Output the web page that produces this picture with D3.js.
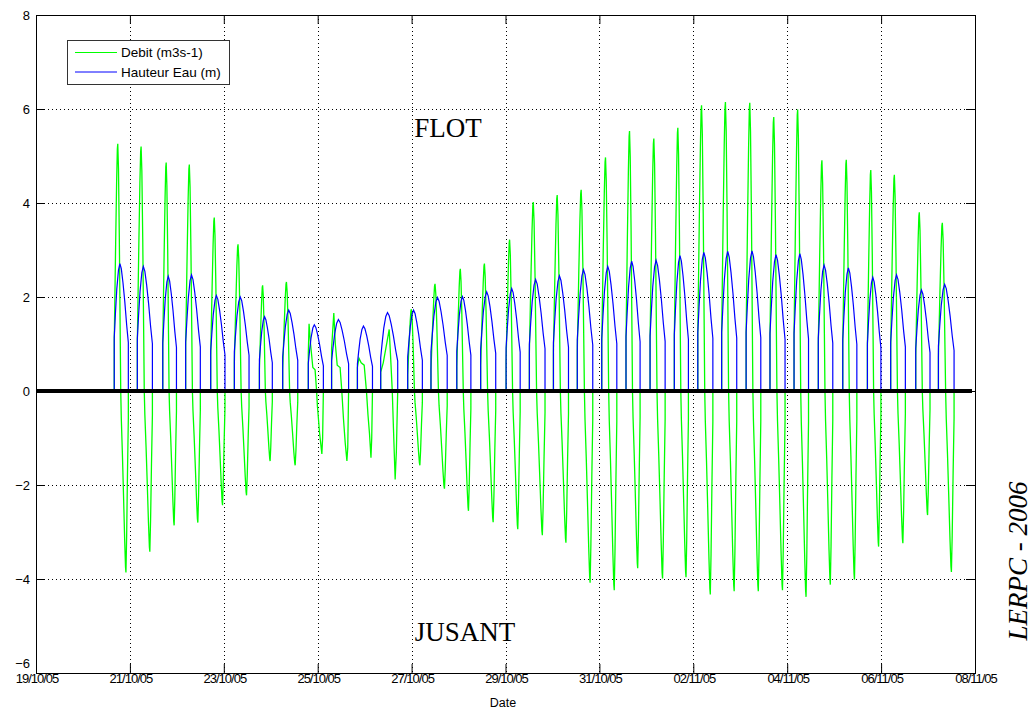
<!DOCTYPE html>
<html><head><meta charset="utf-8">
<script src="https://cdn.jsdelivr.net/npm/d3@7"></script>
<style>body{margin:0;background:#fff}</style>
</head><body>
<svg id="chart" width="1035" height="710"></svg>
<script>
// ---- data ----
const tickDates = ["2005-10-19","2005-10-21","2005-10-23","2005-10-25","2005-10-27","2005-10-29","2005-10-31","2005-11-02","2005-11-04","2005-11-06","2005-11-08"];
const yTicks = [-6,-4,-2,0,2,4,6,8];
const seriesNames = ["Debit (m3s-1)", "Hauteur Eau (m)"];

// start of each immersion cycle (UTC) and its duration in hours
const cycleStart = ["2005-10-20T16:00","2005-10-21T03:48","2005-10-21T16:48","2005-10-22T04:30","2005-10-22T17:18","2005-10-23T05:24","2005-10-23T18:12","2005-10-24T06:06","2005-10-24T19:12","2005-10-25T07:06","2005-10-25T20:18","2005-10-26T08:12","2005-10-26T22:00","2005-10-27T09:54","2005-10-27T23:06","2005-10-28T11:18","2005-10-29T00:18","2005-10-29T12:12","2005-10-30T00:30","2005-10-30T12:42","2005-10-31T01:12","2005-10-31T13:36","2005-11-01T01:54","2005-11-01T14:18","2005-11-02T02:18","2005-11-02T14:30","2005-11-03T03:00","2005-11-03T15:12","2005-11-04T03:30","2005-11-04T15:54","2005-11-05T04:24","2005-11-05T17:00","2005-11-06T04:54","2005-11-06T17:42","2005-11-07T05:18"];
const cycleHours = [7.2,7.7,7.0,7.5,7.3,7.5,6.6,7.7,7.7,8.7,7.7,8.7,7.5,8.3,7.2,7.7,7.2,8.0,7.7,7.9,7.7,7.2,7.7,7.2,7.7,7.7,7.5,7.7,7.4,7.4,7.2,6.9,7.5,7.3,8.0];

// Hauteur Eau (m): peak per cycle
const hauteurPeak = [2.71,2.65,2.44,2.47,2.03,2.00,1.58,1.72,1.41,1.52,1.38,1.67,1.72,1.99,2.01,2.11,2.18,2.37,2.45,2.58,2.65,2.76,2.78,2.88,2.95,2.97,2.98,2.90,2.92,2.68,2.62,2.42,2.47,2.15,2.27];
// Debit (m3s-1): flood maximum and ebb minimum per cycle
const debitPeak = [5.26,5.20,4.86,4.82,3.69,3.12,2.25,2.32,1.43,1.66,0.70,1.31,1.74,2.28,2.60,2.71,3.22,4.02,4.17,4.28,4.97,5.53,5.37,5.60,6.08,6.15,6.13,5.83,5.99,4.91,4.92,4.70,4.60,3.80,3.58];
const debitMin = [-3.86,-3.42,-2.86,-2.80,-2.43,-2.22,-1.49,-1.58,-1.34,-1.49,-1.42,-1.88,-1.58,-2.08,-2.55,-2.79,-2.94,-3.07,-3.23,-4.08,-4.24,-3.77,-3.99,-3.96,-4.33,-4.26,-4.26,-4.24,-4.38,-4.12,-4.01,-3.31,-3.24,-2.64,-3.85];

// typical shape of one cycle (fraction of cycle, fraction of peak / min)
const hauteurProfile = [[0,0],[0,0.42],[0.08,0.6],[0.18,0.8],[0.3,0.95],[0.4,1],[0.5,0.96],[0.62,0.85],[0.75,0.7],[0.88,0.52],[1,0.38],[1,0]];
const debitProfile = [[0,0],[0,0.2],[0.05,0.4],[0.1,0.6],[0.17,0.85],[0.22,0.98],[0.25,1],[0.3,0.9],[0.36,0.62],[0.42,0.25],[0.46,0],[0.5,-0.15],[0.58,-0.35],[0.66,-0.58],[0.74,-0.82],[0.8,-0.97],[0.83,-1],[0.88,-0.8],[0.94,-0.45],[1,-0.15],[1,0]];
// irregular neap cycles, read directly (fraction of cycle, m3s-1)
const debitShapes = {
  8:  [[0,0],[0,0.8],[0.05,1.43],[0.15,1.0],[0.3,0.5],[0.45,0.45],[0.55,0],[0.6,-0.3],[0.75,-0.9],[0.9,-1.34],[0.95,-1.0],[1,0]],
  9:  [[0,0],[0,0.9],[0.13,1.66],[0.22,1.0],[0.33,0.55],[0.5,0.5],[0.6,0],[0.7,-0.6],[0.8,-1.1],[0.9,-1.49],[0.95,-1.2],[1,0]],
  10: [[0,0],[0,0.5],[0.1,0.7],[0.25,0.6],[0.45,0.55],[0.6,0],[0.7,-0.5],[0.8,-0.9],[0.9,-1.42],[0.95,-1.0],[1,0]],
  11: [[0,0],[0,0.4],[0.15,0.6],[0.3,0.9],[0.5,1.31],[0.6,0.6],[0.68,0],[0.75,-0.8],[0.85,-1.88],[0.92,-1.3],[1,0]]
};

// ---- build ----
const parseT = d3.utcParse("%Y-%m-%dT%H:%M");
const parseD = d3.utcParse("%Y-%m-%d");
const HOUR = 3600e3;

const hauteur = [], debit = [];
cycleStart.forEach((s, i) => {
  const t0 = +parseT(s), len = cycleHours[i] * HOUR;
  hauteurProfile.forEach(([f, v]) => hauteur.push([new Date(t0 + f * len), v * hauteurPeak[i]]));
  if (debitShapes[i]) {
    debitShapes[i].forEach(([f, v]) => debit.push([new Date(t0 + f * len), v]));
  } else {
    debitProfile.forEach(([f, v]) => debit.push([new Date(t0 + f * len), v >= 0 ? v * debitPeak[i] : -v * debitMin[i]]));
  }
});

const L = 36, R = 975, T = 15, B = 673;
const svg = d3.select("#chart");
const dates = tickDates.map(parseD);
const x = d3.scaleUtc().domain([dates[0], dates[dates.length - 1]]).range([L, R]);
const y = d3.scaleLinear().domain([-6, 8]).range([B, T]);
const font = "'Liberation Sans', Arial, sans-serif";
const serif = "'Liberation Serif', 'Times New Roman', serif";

// grid
const grid = svg.append("g").attr("stroke", "#000").attr("stroke-width", 1).attr("stroke-dasharray", "1,3");
dates.slice(1, -1).forEach(d => {
  const xx = Math.round(x(d)) + 0.5;
  grid.append("line").attr("x1", xx).attr("x2", xx).attr("y1", T).attr("y2", B);
});
yTicks.slice(1, -1).forEach(v => {
  const yy = Math.round(y(v)) + 0.5;
  grid.append("line").attr("x1", L).attr("x2", R).attr("y1", yy).attr("y2", yy);
});

// series
const line = d3.line().x(d => x(d[0])).y(d => y(d[1]));
svg.append("path").datum(debit).attr("d", line).attr("fill", "none").attr("stroke", "#00ff00").attr("stroke-width", 1.3);
svg.append("path").datum(hauteur).attr("d", line).attr("fill", "none").attr("stroke", "#0000ff").attr("stroke-width", 1.2);

// zero line
svg.append("line").attr("x1", L).attr("x2", R - 3).attr("y1", y(0)).attr("y2", y(0))
  .attr("stroke", "#000").attr("stroke-width", 4);

// axes
const fmt = d3.utcFormat("%d/%m/%y");
const gx = svg.append("g").attr("transform", `translate(0,${B})`)
  .call(d3.axisBottom(x).tickValues(dates).tickFormat(fmt).tickSize(-9).tickPadding(1));
const gxt = svg.append("g").attr("transform", `translate(0,${T})`)
  .call(d3.axisTop(x).tickValues(dates).tickFormat("").tickSize(-9));
const gy = svg.append("g").attr("transform", `translate(${L},0)`)
  .call(d3.axisLeft(y).tickValues(yTicks).tickSize(-9).tickPadding(6));
const gyr = svg.append("g").attr("transform", `translate(${R},0)`)
  .call(d3.axisRight(y).tickValues(yTicks).tickFormat("").tickSize(-9));
[gx, gxt, gy, gyr].forEach(g => {
  g.select(".domain").remove();
  g.selectAll("text").attr("font-family", font).attr("font-size", 13).attr("fill", "#000");
});
gx.selectAll("text").attr("letter-spacing", "-1px").attr("dx", "0.5px");
gy.selectAll(".tick").filter(d => d === -6).select("text").attr("dy", "-0.42em");

svg.append("rect").attr("x", L + 0.5).attr("y", T + 0.5).attr("width", R - L).attr("height", B - T)
  .attr("fill", "none").attr("stroke", "#000").attr("stroke-width", 1);

// axis label
svg.append("text").attr("x", 503).attr("y", 707).attr("text-anchor", "middle")
  .attr("font-family", font).attr("font-size", 12.5).text("Date");

// annotations
svg.append("text").attr("x", 448).attr("y", 137).attr("text-anchor", "middle")
  .attr("font-family", serif).attr("font-size", 27).text("FLOT");
svg.append("text").attr("x", 465).attr("y", 641).attr("text-anchor", "middle")
  .attr("font-family", serif).attr("font-size", 27).text("JUSANT");
svg.append("text").attr("transform", "translate(1027,561) rotate(-90)").attr("text-anchor", "middle")
  .attr("font-family", serif).attr("font-size", 27).attr("font-style", "italic").text("LERPC - 2006");

// legend
const lg = svg.append("g");
lg.append("rect").attr("x", 67.5).attr("y", 40.5).attr("width", 162).attr("height", 44)
  .attr("fill", "#fff").attr("stroke", "#333").attr("stroke-width", 1);
const legColors = ["#00ff00", "#0000ff"];
seriesNames.forEach((n, i) => {
  const yy = 52.5 + i * 19.5;
  lg.append("line").attr("x1", 75).attr("x2", 117).attr("y1", yy).attr("y2", yy).attr("stroke", legColors[i]);
  lg.append("text").attr("x", 121).attr("y", yy).attr("dy", "0.35em")
    .attr("font-family", font).attr("font-size", 13.5).text(n);
});
</script>
</body></html>
